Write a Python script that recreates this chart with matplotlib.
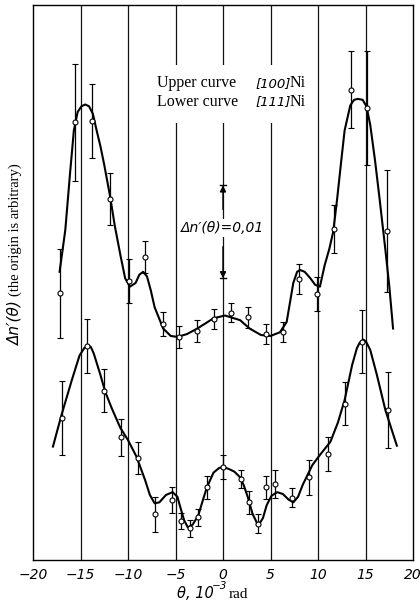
import numpy as np
import matplotlib.pyplot as plt
from matplotlib.patches import Rectangle

# measured points, upper curve [100] Ni  (y in units of 0.01, origin arbitrary)
up_theta = [-17.2, -15.6, -13.8, -11.9, -9.9, -8.2, -6.3, -4.6, -2.7, -0.9,
            0.8, 2.6, 4.5, 6.3, 8.0, 9.9, 11.7, 13.5, 15.2, 17.3]
up_val = [2.87, 4.71, 4.72, 3.88, 3.00, 3.26, 2.54, 2.40, 2.46, 2.59,
          2.66, 2.61, 2.43, 2.45, 3.02, 2.86, 3.56, 5.06, 4.86, 3.54]
up_err = [0.48, 0.63, 0.40, 0.28, 0.24, 0.17, 0.13, 0.12, 0.12, 0.11,
          0.10, 0.11, 0.11, 0.11, 0.16, 0.18, 0.26, 0.41, 0.61, 0.66]

# measured points, lower curve [111] Ni
lo_theta = [-17.0, -14.3, -12.5, -10.7, -8.9, -7.2, -5.4, -4.4, -3.5, -2.6, -1.7,
            0.0, 1.9, 2.7, 3.7, 4.5, 5.5, 7.3, 9.1, 11.0, 12.8, 14.6, 17.4]
lo_val = [1.53, 2.30, 1.82, 1.32, 1.10, 0.49, 0.65, 0.42, 0.34, 0.46, 0.78,
          1.00, 0.87, 0.62, 0.39, 0.78, 0.82, 0.67, 0.89, 1.14, 1.68, 2.35, 1.61]
lo_err = [0.40, 0.29, 0.23, 0.20, 0.17, 0.19, 0.14, 0.09, 0.09, 0.09, 0.12,
          0.13, 0.10, 0.12, 0.10, 0.12, 0.15, 0.10, 0.19, 0.18, 0.23, 0.34, 0.41]

# hand drawn smooth curves
up_curve_theta = [-17.2, -16.6, -16.1, -15.7, -15.3, -14.9, -14.5, -14.1, -13.7, -13.3,
                  -12.9, -12.5, -11.9, -11.4, -10.8, -10.3, -9.8, -9.2, -8.8, -8.4,
                  -8.0, -7.6, -7.2, -6.3, -5.5, -4.8, -3.8, -2.7, -1.0, 0.2,
                  1.8, 2.8, 4.0, 5.0, 6.0, 6.7, 7.1, 7.4, 7.8, 8.1,
                  8.6, 9.2, 9.7, 10.2, 10.7, 11.2, 11.6, 12.0, 12.4, 12.8,
                  13.4, 13.8, 14.2, 14.7, 15.1, 15.5, 16.0, 16.5, 17.1, 17.5, 17.9]
up_curve_val = [3.10, 3.55, 4.16, 4.62, 4.82, 4.88, 4.90, 4.88, 4.80, 4.62,
                4.45, 4.25, 3.92, 3.60, 3.28, 3.03, 2.94, 2.98, 3.07, 3.10,
                3.05, 2.90, 2.72, 2.49, 2.41, 2.40, 2.43, 2.49, 2.60, 2.63,
                2.58, 2.49, 2.42, 2.41, 2.45, 2.56, 2.80, 2.98, 3.10, 3.12,
                3.10, 3.03, 2.96, 2.94, 3.17, 3.35, 3.53, 3.87, 4.25, 4.62,
                4.89, 4.95, 4.96, 4.95, 4.88, 4.68, 4.30, 3.87, 3.33, 2.95, 2.49]

lo_curve_theta = [-17.9, -17.0, -15.9, -15.1, -14.6, -14.2, -13.9, -13.6, -12.9, -12.4,
                  -11.7, -10.8, -10.0, -9.1, -8.2, -7.7, -7.2, -6.7, -6.0, -5.3,
                  -4.8, -4.5, -4.1, -3.7, -3.2, -2.6, -2.1, -1.7, -1.0, -0.4,
                  0.0, 0.6, 1.2, 1.8, 2.2, 2.6, 3.1, 3.7, 4.2, 4.6,
                  5.1, 5.7, 6.3, 6.9, 7.4, 7.9, 8.4, 9.4, 10.2, 11.3,
                  12.1, 12.8, 13.6, 14.1, 14.4, 14.8, 15.1, 15.5, 16.2, 17.1, 18.3]
lo_curve_val = [1.22, 1.56, 1.94, 2.20, 2.28, 2.31, 2.29, 2.22, 1.99, 1.81,
                1.63, 1.42, 1.29, 1.11, 0.86, 0.70, 0.61, 0.62, 0.70, 0.73,
                0.68, 0.57, 0.43, 0.35, 0.38, 0.48, 0.65, 0.78, 0.94, 0.99,
                1.00, 0.98, 0.95, 0.89, 0.80, 0.68, 0.50, 0.37, 0.45, 0.59,
                0.69, 0.73, 0.71, 0.65, 0.62, 0.68, 0.81, 1.02, 1.13, 1.27,
                1.48, 1.72, 2.10, 2.28, 2.34, 2.37, 2.34, 2.26, 1.99, 1.61, 1.23]

xticks = [-20, -15, -10, -5, 0, 5, 10, 15, 20]
scale_lo, scale_hi = 3.03, 4.03   # delta n' = 0,01

serif = ['Liberation Serif', 'DejaVu Serif']
narrow = ['DejaVu Sans']

fig = plt.figure(figsize=(4.2, 6.02), dpi=100)
ax = fig.add_axes([33 / 420, 42 / 602, 380 / 420, 555 / 602])
ax.set_xlim(-20, 20)
ax.set_ylim(0, 5.97)

for x in xticks[1:-1]:
    ax.axvline(x, color='#111111', lw=0.9, zorder=1)

# blank out grid behind the legend text
ax.add_patch(Rectangle((-7.6, 4.70), 17.0, 0.62, facecolor='white',
                       edgecolor='none', zorder=2))

for th, v, e, cth, cv in [(up_theta, up_val, up_err, up_curve_theta, up_curve_val),
                          (lo_theta, lo_val, lo_err, lo_curve_theta, lo_curve_val)]:
    ax.plot(cth, cv, color='black', lw=1.5, zorder=3)
    ax.errorbar(th, v, yerr=e, fmt='o', color='black', mfc='white', mec='black',
                ms=3.6, mew=0.8, elinewidth=0.9, capsize=2.2, capthick=0.9, zorder=4)

# legend text
ax.text(-6.9, 5.13, 'Upper curve', family=serif, fontsize=11.5, va='center', zorder=5)
ax.text(-6.9, 4.93, 'Lower curve', family=serif, fontsize=11.5, va='center', zorder=5)
ax.text(3.4, 5.13, '[100]', family=narrow, style='italic', fontsize=9.5, va='center', zorder=5)
ax.text(3.4, 4.93, '[111]', family=narrow, style='italic', fontsize=9.5, va='center', zorder=5)
ax.text(7.0, 5.13, 'Ni', family=serif, fontsize=11.5, va='center', zorder=5)
ax.text(7.0, 4.93, 'Ni', family=serif, fontsize=11.5, va='center', zorder=5)

# scale bar on the zero line
mid = (scale_lo + scale_hi) / 2 + 0.04
ax.plot([-0.35, 0.35], [scale_hi, scale_hi], color='black', lw=1.0, zorder=5)
ax.plot([-0.35, 0.35], [scale_lo, scale_lo], color='black', lw=1.0, zorder=5)
ax.annotate('', xy=(0, scale_hi), xytext=(0, mid + 0.2),
            arrowprops=dict(arrowstyle='-|>', color='black', lw=1.0,
                            mutation_scale=9, shrinkA=0, shrinkB=0), zorder=5)
ax.annotate('', xy=(0, scale_lo), xytext=(0, mid - 0.2),
            arrowprops=dict(arrowstyle='-|>', color='black', lw=1.0,
                            mutation_scale=9, shrinkA=0, shrinkB=0), zorder=5)
ax.text(0, mid, "Δn′(θ)=0,01", family=narrow, style='italic', fontsize=10,
        ha='center', va='center', zorder=6,
        bbox=dict(facecolor='white', edgecolor='none', pad=1.5))

ax.set_yticks([])
ax.set_xticks(xticks)
ax.set_xticklabels([str(t).replace('-', '\u2212') for t in xticks],
                   family=narrow, style='italic', fontsize=10)
ax.tick_params(axis='x', length=0, pad=6)
for s in ax.spines.values():
    s.set_linewidth(1.0)

# axis labels
fig.text(15 / 420, 1 - 230 / 602, '(the origin is arbitrary)', family=serif,
         fontsize=10.5, rotation=90, ha='center', va='center')
fig.text(15 / 420, 1 - 323 / 602, "Δn′(θ)", family=narrow, style='italic',
         fontsize=11, rotation=90, ha='center', va='center')
fig.text(177 / 420, 1 - 598 / 602, 'θ, 10', family=narrow, style='italic',
         fontsize=10.5, ha='left', va='baseline')
fig.text(212 / 420, 1 - 589 / 602, '\u22123', family=narrow, style='italic',
         fontsize=7.5, ha='left', va='baseline')
fig.text(229 / 420, 1 - 598 / 602, 'rad', family=serif,
         fontsize=11, ha='left', va='baseline')

fig.savefig('out.png', dpi=100)
